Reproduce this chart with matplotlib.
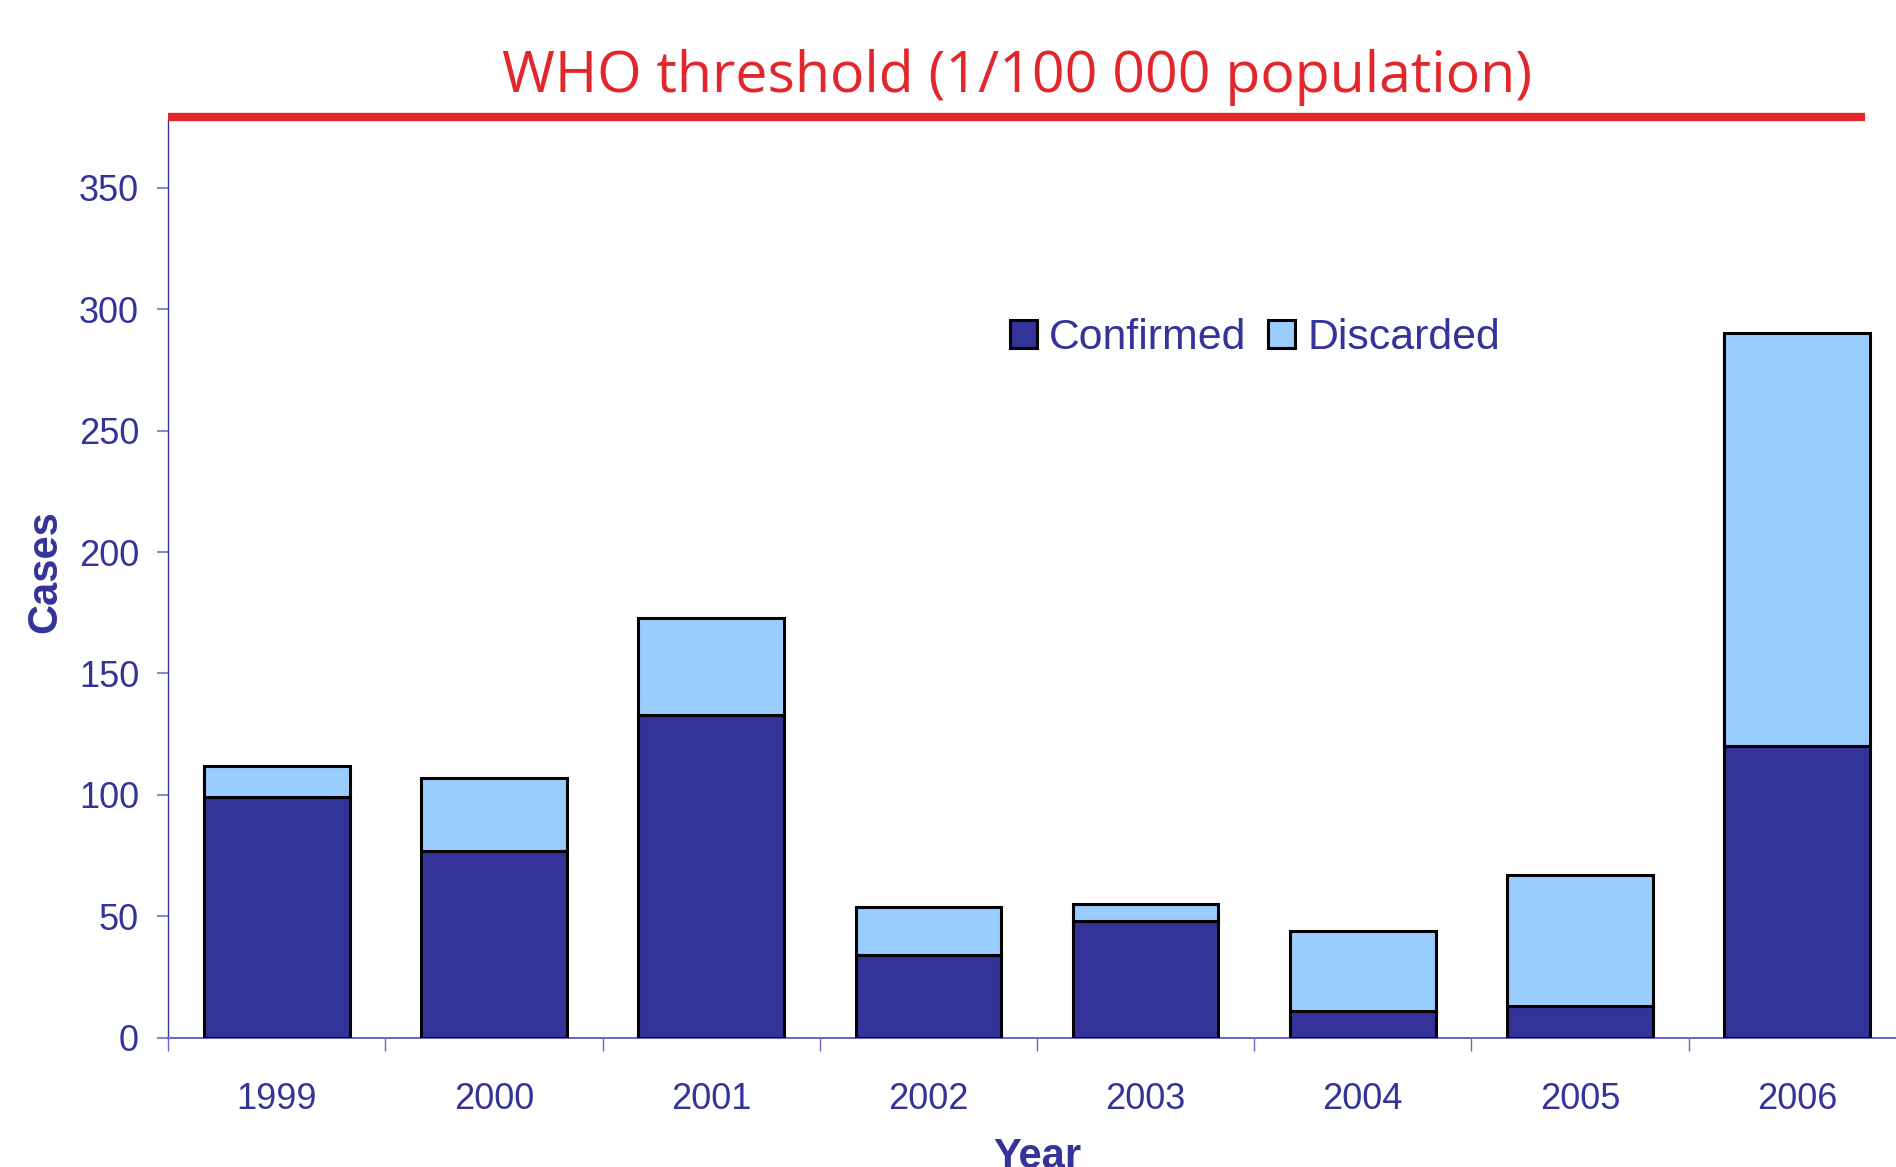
import matplotlib
matplotlib.use("Agg")
import matplotlib.pyplot as plt
import numpy as np

years = ["1999", "2000", "2001", "2002", "2003", "2004", "2005", "2006"]
confirmed = [99, 77, 133, 34, 48, 11, 13, 120]
discarded = [13, 30, 40, 20, 7, 33, 54, 170]
yticks = [0, 50, 100, 150, 200, 250, 300, 350]
title = "WHO threshold (1/100 000 population)"

DARK = "#333399"
LIGHT = "#99ccff"
TXT = "#333399"
RED = "#e3262b"

W, H = 1896, 1167
fig = plt.figure(figsize=(W / 100, H / 100), dpi=100)
ax_left = 168.2 / W
ax_w = (1905.8 - 168.2) / W
ax_bot = (H - 1037.7) / H
ax_h = (1037.7 - 121) / H
ax = fig.add_axes([ax_left, ax_bot, ax_w, ax_h])

x = np.arange(len(years))
bw = 0.67
ax.bar(x, confirmed, width=bw, color=DARK, edgecolor="black", linewidth=2.2, label="Confirmed", zorder=3)
ax.bar(x, discarded, width=bw, bottom=confirmed, color=LIGHT, edgecolor="black", linewidth=2.2, label="Discarded", zorder=3)

ax.set_xlim(-0.5, len(years) - 0.5)
ax.set_ylim(0, 377.5)

for s in ["top", "right"]:
    ax.spines[s].set_visible(False)
ax.spines["left"].set_color("#3333aa")
ax.spines["left"].set_linewidth(1.0)
ax.spines["bottom"].set_color("#6666cc")
ax.spines["bottom"].set_linewidth(1.4)

ax.set_yticks(yticks)
ax.set_yticklabels([str(v) for v in yticks], fontsize=26, color=TXT, family="Liberation Sans")
ax.tick_params(axis="y", length=8, width=1.5, color="#8888cc", pad=13)

ax.set_xticks(x)
ax.set_xticklabels(years, fontsize=26, color=TXT, family="Liberation Sans")
ax.tick_params(axis="x", which="major", length=0, pad=32)
ax.set_xticks(np.arange(len(years)) - 0.5, minor=True)
ax.tick_params(axis="x", which="minor", length=9, width=1.0, color="#6666cc")

ax.set_xlabel("Year", fontsize=30, fontweight="bold", color=TXT, family="Liberation Sans")
ax.xaxis.set_label_coords(0.5, -0.108)
ax.xaxis.label.set_va("top")
ax.set_ylabel("Cases", fontsize=30, fontweight="bold", color=TXT, family="Liberation Sans")
ax.yaxis.set_label_coords(-0.0705, 0.508)
ax.yaxis.label.set_va("center")

leg = ax.legend(loc="center left", bbox_to_anchor=((1010 - 168.2) / (1905.8 - 168.2), (1037.7 - 338) / (1037.7 - 121)),
                ncol=2, frameon=False, handlelength=0.62, handleheight=0.62, handletextpad=0.3,
                columnspacing=0.5, borderpad=0, borderaxespad=0,
                prop={"family": "Liberation Sans", "size": 30.8})
for t in leg.get_texts():
    t.set_color(TXT)

# red threshold line above the plot
ax.axhline(379.2, xmin=0, xmax=(1865 - 168.2) / (1905.8 - 168.2), color=RED, linewidth=6, clip_on=False, zorder=5, solid_capstyle="butt")

fig.text(1017.5 / W, 1 - 91.7 / H, title, fontsize=41.2, color=RED, family="Open Sans",
         ha="center", va="baseline")

fig.savefig("out.png", dpi=100)
